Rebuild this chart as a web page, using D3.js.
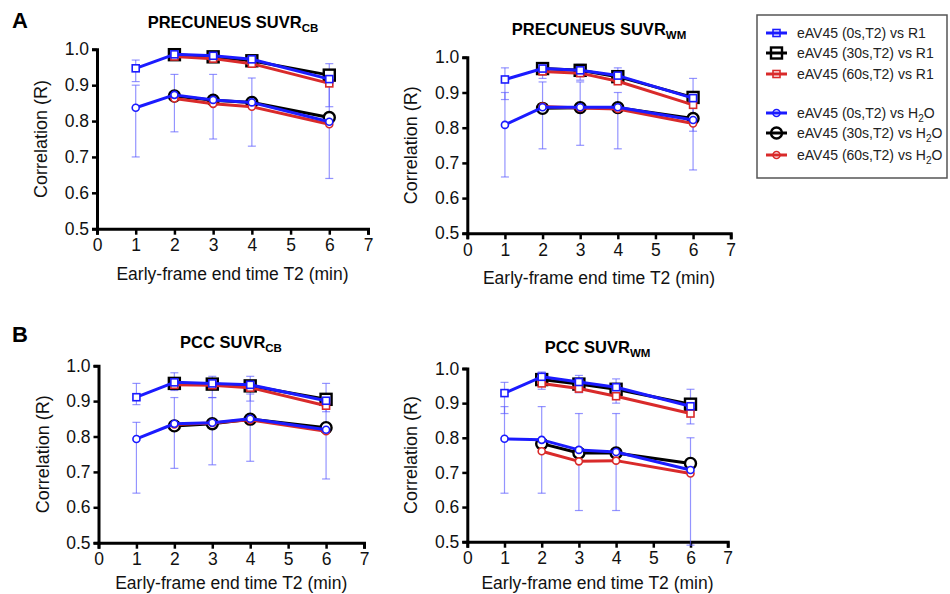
<!DOCTYPE html>
<html><head><meta charset="utf-8">
<script src="https://cdn.jsdelivr.net/npm/d3@7/dist/d3.min.js"></script>
<style>
body{margin:0;background:#fff}
svg{font-family:"Liberation Sans",Arial,Helvetica,sans-serif}
</style>
</head><body>
<svg id="chart" width="950" height="594"></svg>
<script>
// ---------- data ----------
const xTicks = [0,1,2,3,4,5,6,7];
const yTicks = [0.5,0.6,0.7,0.8,0.9,1.0];
const xAll  = [1,2,3,4,6];     // 0s series start at T2 = 1 min
const xLate = [2,3,4,6];       // 30s / 60s series start at T2 = 2 min

const seriesLabels = ["eAV45 (0s,T2) vs R1","eAV45 (30s,T2) vs R1","eAV45 (60s,T2) vs R1",
                      "eAV45 (0s,T2) vs H₂O","eAV45 (30s,T2) vs H₂O","eAV45 (60s,T2) vs H₂O"];
const panelTitles = [["PRECUNEUS SUVR","CB"],["PRECUNEUS SUVR","WM"],["PCC SUVR","CB"],["PCC SUVR","WM"]];
const panelLetters = ["A","B"];

// Panel A left : PRECUNEUS SUVR_CB
const preCB_R1_0s   = [0.947,0.986,0.982,0.972,0.917];
const preCB_R1_30s  = [0.985,0.979,0.968,0.928];
const preCB_R1_60s  = [0.980,0.974,0.960,0.905];
const preCB_H2O_0s  = [0.837,0.873,0.859,0.852,0.798];
const preCB_H2O_30s = [0.870,0.858,0.852,0.810];
const preCB_H2O_60s = [0.863,0.848,0.840,0.791];
const preCB_R1_lo   = [0.91,0.975,0.968,0.955,0.84];
const preCB_R1_hi   = [0.97,0.993,0.990,0.985,0.96];
const preCB_H2O_lo  = [0.70,0.77,0.75,0.73,0.64];
const preCB_H2O_hi  = [0.90,0.93,0.93,0.92,0.90];

// Panel A right : PRECUNEUS SUVR_WM
const preWM_R1_0s   = [0.937,0.968,0.963,0.948,0.884];
const preWM_R1_30s  = [0.968,0.963,0.945,0.886];
const preWM_R1_60s  = [0.960,0.955,0.932,0.865];
const preWM_H2O_0s  = [0.808,0.858,0.858,0.858,0.822];
const preWM_H2O_30s = [0.855,0.857,0.857,0.826];
const preWM_H2O_60s = [0.860,0.856,0.853,0.812];
const preWM_R1_lo   = [0.88,0.94,0.935,0.926,0.79];
const preWM_R1_hi   = [0.97,0.985,0.98,0.97,0.94];
const preWM_H2O_lo  = [0.66,0.74,0.75,0.74,0.68];
const preWM_H2O_hi  = [0.90,0.93,0.93,0.90,0.88];

// Panel B left : PCC SUVR_CB
const pccCB_R1_0s   = [0.911,0.953,0.950,0.946,0.901];
const pccCB_R1_30s  = [0.950,0.948,0.943,0.905];
const pccCB_R1_60s  = [0.946,0.945,0.938,0.887];
const pccCB_H2O_0s  = [0.793,0.836,0.839,0.850,0.819];
const pccCB_H2O_30s = [0.830,0.836,0.849,0.825];
const pccCB_H2O_60s = [0.834,0.838,0.847,0.815];
const pccCB_R1_lo   = [0.89,0.93,0.91,0.90,0.87];
const pccCB_R1_hi   = [0.95,0.98,0.97,0.97,0.95];
const pccCB_H2O_lo  = [0.64,0.71,0.72,0.73,0.68];
const pccCB_H2O_hi  = [0.84,0.91,0.91,0.92,0.88];

// Panel B right : PCC SUVR_WM
const pccWM_R1_0s   = [0.929,0.976,0.961,0.946,0.891];
const pccWM_R1_30s  = [0.968,0.955,0.940,0.897];
const pccWM_R1_60s  = [0.957,0.942,0.920,0.870];
const pccWM_H2O_0s  = [0.797,0.794,0.765,0.759,0.707];
const pccWM_H2O_30s = [0.783,0.756,0.756,0.726];
const pccWM_H2O_60s = [0.761,0.732,0.734,0.697];
const pccWM_R1_lo   = [0.87,0.94,0.93,0.90,0.84];
const pccWM_R1_hi   = [0.96,0.99,0.98,0.97,0.94];
const pccWM_H2O_lo  = [0.64,0.64,0.59,0.59,0.49];
const pccWM_H2O_hi  = [0.89,0.89,0.87,0.87,0.80];

// ---------- layout / styles ----------
const BLUE = "#1b1bff", BLACK = "#000000", RED = "#d92a2a", ERR = "rgba(90,90,255,0.65)";
const styles = [
  {color:BLUE,  shape:"square", size:7,  sw:1.6},
  {color:BLACK, shape:"square", size:11, sw:2.4},
  {color:RED,   shape:"square", size:7,  sw:1.6},
  {color:BLUE,  shape:"circle", size:7,  sw:1.6},
  {color:BLACK, shape:"circle", size:11, sw:2.4},
  {color:RED,   shape:"circle", size:7,  sw:1.6}
];

const panels = [
  {x0:97,   x1:368,   yTop:49.3,  yBot:228.7, titleX:233, titleY:28,
   data:[preCB_R1_0s,preCB_R1_30s,preCB_R1_60s,preCB_H2O_0s,preCB_H2O_30s,preCB_H2O_60s],
   err:[[preCB_R1_lo,preCB_R1_hi],[preCB_H2O_lo,preCB_H2O_hi]]},
  {x0:467.3,x1:730.7, yTop:57.3,  yBot:233.3, titleX:599, titleY:35,
   data:[preWM_R1_0s,preWM_R1_30s,preWM_R1_60s,preWM_H2O_0s,preWM_H2O_30s,preWM_H2O_60s],
   err:[[preWM_R1_lo,preWM_R1_hi],[preWM_H2O_lo,preWM_H2O_hi]]},
  {x0:98.5, x1:364,   yTop:365.7, yBot:542.7, titleX:231, titleY:348,
   data:[pccCB_R1_0s,pccCB_R1_30s,pccCB_R1_60s,pccCB_H2O_0s,pccCB_H2O_30s,pccCB_H2O_60s],
   err:[[pccCB_R1_lo,pccCB_R1_hi],[pccCB_H2O_lo,pccCB_H2O_hi]]},
  {x0:467.3,x1:727.7, yTop:368.5, yBot:541.7, titleX:597.5, titleY:353,
   data:[pccWM_R1_0s,pccWM_R1_30s,pccWM_R1_60s,pccWM_H2O_0s,pccWM_H2O_30s,pccWM_H2O_60s],
   err:[[pccWM_R1_lo,pccWM_R1_hi],[pccWM_H2O_lo,pccWM_H2O_hi]]}
];

const svg = d3.select("#chart");

function drawMarker(g, st, cx, cy, fill) {
  if (st.shape === "square") {
    g.append("rect").attr("x", cx - st.size/2).attr("y", cy - st.size/2)
     .attr("width", st.size).attr("height", st.size)
     .attr("fill", fill).attr("stroke", st.color).attr("stroke-width", st.sw);
  } else {
    g.append("circle").attr("cx", cx).attr("cy", cy).attr("r", st.size/2)
     .attr("fill", fill).attr("stroke", st.color).attr("stroke-width", st.sw);
  }
}

panels.forEach((p, pi) => {
  const x = d3.scaleLinear().domain([0,7]).range([p.x0, p.x1]);
  const y = d3.scaleLinear().domain([0.5,1.0]).range([p.yBot, p.yTop]);
  const g = svg.append("g");

  // title with subscript
  const t = g.append("text").attr("x", p.titleX).attr("y", p.titleY)
    .attr("text-anchor","middle").attr("font-weight","bold").attr("font-size",16.5);
  t.append("tspan").text(panelTitles[pi][0]);
  t.append("tspan").attr("font-size",11.5).attr("dy",4).text(panelTitles[pi][1]);

  // axes
  const ax = g.append("g").attr("transform",`translate(0,${p.yBot})`)
    .call(d3.axisBottom(x).tickValues(xTicks).tickSize(6).tickPadding(4).tickFormat(d3.format("d")));
  const ay = g.append("g").attr("transform",`translate(${p.x0},0)`)
    .call(d3.axisLeft(y).tickValues(yTicks).tickSize(5).tickPadding(3).tickFormat(d3.format(".1f")));
  [ax, ay].forEach(a => {
    a.select(".domain").attr("stroke","#000").attr("stroke-width",3);
    a.selectAll(".tick line").attr("stroke","#000").attr("stroke-width",2.5);
    a.selectAll(".tick text").attr("fill","#111").attr("font-size",17.5)
      .attr("font-family","'Liberation Sans',Arial,sans-serif");
  });

  // axis titles
  g.append("text").attr("x",(p.x0+p.x1)/2).attr("y",Math.min(p.yBot+51, 589))
    .attr("text-anchor","middle").attr("font-size",17.5).attr("fill","#111")
    .text("Early-frame end time T2 (min)");
  g.append("text").attr("transform",`translate(${p.x0-50},${(p.yTop+p.yBot)/2}) rotate(-90)`)
    .attr("text-anchor","middle").attr("font-size",18).attr("fill","#111")
    .text("Correlation (R)");

  // error bars (0s series)
  p.err.forEach(([lo, hi]) => {
    xAll.forEach((xv, i) => {
      const cx = x(xv), yl = y(Math.max(lo[i],0.49)), yh = y(hi[i]);
      g.append("line").attr("x1",cx).attr("x2",cx).attr("y1",yl).attr("y2",yh)
        .attr("stroke",ERR).attr("stroke-width",1.2);
      [yl, yh].forEach(yy => g.append("line").attr("x1",cx-4).attr("x2",cx+4)
        .attr("y1",yy).attr("y2",yy).attr("stroke",ERR).attr("stroke-width",1.2));
    });
  });

  // series lines + markers, order: black, red, blue
  const order = [1,2,0,4,5,3];
  order.forEach(si => {
    const xs = (si % 3 === 0) ? xAll : xLate;
    const vals = p.data[si];
    const pts = vals.map((v,i) => [x(xs[i]), y(v)]);
    g.append("path").attr("d", d3.line()(pts)).attr("fill","none")
      .attr("stroke", styles[si].color).attr("stroke-width",3).attr("stroke-linejoin","round");
    pts.forEach(([cx,cy]) => drawMarker(g, styles[si], cx, cy, "#fff"));
  });
});

// panel letters
svg.append("text").attr("x",12).attr("y",28).attr("font-size",22).attr("font-weight","bold").text(panelLetters[0]);
svg.append("text").attr("x",12).attr("y",342).attr("font-size",22).attr("font-weight","bold").text(panelLetters[1]);

// legend
const lg = svg.append("g");
lg.append("rect").attr("x",757).attr("y",15).attr("width",190).attr("height",163)
  .attr("fill","#fff").attr("stroke","#555").attr("stroke-width",1.5);
const legendY = [33,53,74,113,133,155];
seriesLabels.forEach((lab, i) => {
  const cy = legendY[i], st = styles[i];
  lg.append("line").attr("x1",766).attr("x2",787).attr("y1",cy).attr("y2",cy)
    .attr("stroke",st.color).attr("stroke-width",3);
  drawMarker(lg, st, 776.5, cy, "none");
  const t = lg.append("text").attr("x",797).attr("y",cy+5).attr("font-size",14).attr("fill","#222");
  if (lab.includes("H₂O")) {
    t.append("tspan").text(lab.replace("H₂O","H"));
    t.append("tspan").attr("font-size",10).attr("dy",4).text("2");
    t.append("tspan").attr("dy",-4).text("O");
  } else {
    t.text(lab);
  }
});
</script>
</body></html>
